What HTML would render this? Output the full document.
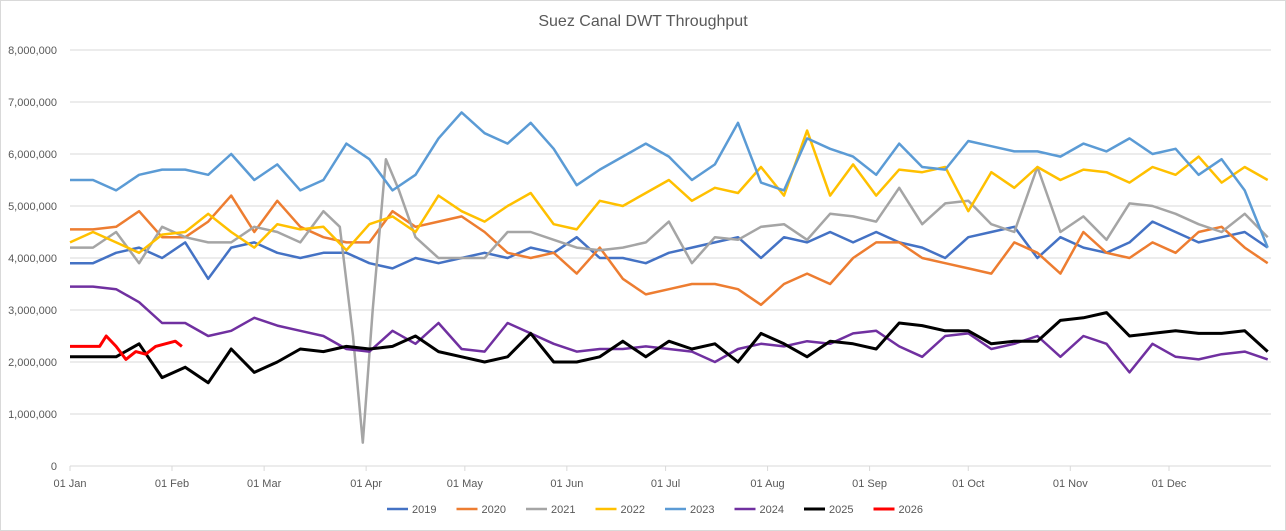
<!DOCTYPE html>
<html><head><meta charset="utf-8"><style>
body{margin:0;background:#fff;}
svg{display:block;font-family:"Liberation Sans",sans-serif;}
</style></head><body>
<svg id="chart" width="1286" height="531" viewBox="0 0 1286 531" xmlns="http://www.w3.org/2000/svg">
<rect x="0.5" y="0.5" width="1285" height="530" fill="#fff" stroke="#d9d9d9"/>
<text x="643" y="26" text-anchor="middle" font-size="16" fill="#595959">Suez Canal DWT Throughput</text>
<g id="grid"></g><g id="axes"></g><g id="series"></g><g id="legend"></g>
</svg>
<script>
const weekDays=[0,7,14,21,28,35,42,49,56,63,70,77,84,91,98,105,112,119,126,133,140,147,154,161,168,175,182,189,196,203,210,217,224,231,238,245,252,259,266,273,280,287,294,301,308,315,322,329,336,343,350,357,364];
const yTicks=[0,1000000,2000000,3000000,4000000,5000000,6000000,7000000,8000000];
const yTickLabels=["0","1,000,000","2,000,000","3,000,000","4,000,000","5,000,000","6,000,000","7,000,000","8,000,000"];
const xTickDays=[0,31,59,90,120,151,181,212,243,273,304,334];
const xTickLabels=["01 Jan","01 Feb","01 Mar","01 Apr","01 May","01 Jun","01 Jul","01 Aug","01 Sep","01 Oct","01 Nov","01 Dec"];
const s2019=[3.9,3.9,4.1,4.2,4.0,4.3,3.6,4.2,4.3,4.1,4.0,4.1,4.1,3.9,3.8,4.0,3.9,4.0,4.1,4.0,4.2,4.1,4.4,4.0,4.0,3.9,4.1,4.2,4.3,4.4,4.0,4.4,4.3,4.5,4.3,4.5,4.3,4.2,4.0,4.4,4.5,4.6,4.0,4.4,4.2,4.1,4.3,4.7,4.5,4.3,4.4,4.5,4.2];
const s2020=[4.55,4.55,4.6,4.9,4.4,4.4,4.7,5.2,4.5,5.1,4.6,4.4,4.3,4.3,4.9,4.6,4.7,4.8,4.5,4.1,4.0,4.1,3.7,4.2,3.6,3.3,3.4,3.5,3.5,3.4,3.1,3.5,3.7,3.5,4.0,4.3,4.3,4.0,3.9,3.8,3.7,4.3,4.1,3.7,4.5,4.1,4.0,4.3,4.1,4.5,4.6,4.2,3.9];
const days2021=[0,7,14,21,28,35,42,49,56,63,70,77,82,86,89,92,96,100,105,112,119,126,133,140,147,154,161,168,175,182,189,196,203,210,217,224,231,238,245,252,259,266,273,280,287,294,301,308,315,322,329,336,343,350,357,364];
const s2021=[4.2,4.2,4.5,3.9,4.6,4.4,4.3,4.3,4.6,4.5,4.3,4.9,4.6,2.5,0.45,3.0,5.9,5.3,4.4,4.0,4.0,4.0,4.5,4.5,4.35,4.2,4.15,4.2,4.3,4.7,3.9,4.4,4.35,4.6,4.65,4.35,4.85,4.8,4.7,5.35,4.65,5.05,5.1,4.65,4.5,5.75,4.5,4.8,4.35,5.05,5.0,4.85,4.65,4.5,4.85,4.4];
const s2022=[4.3,4.5,4.3,4.1,4.45,4.5,4.85,4.5,4.2,4.65,4.55,4.6,4.15,4.65,4.8,4.5,5.2,4.9,4.7,5.0,5.25,4.65,4.55,5.1,5.0,5.25,5.5,5.1,5.35,5.25,5.75,5.2,6.45,5.2,5.8,5.2,5.7,5.65,5.75,4.9,5.65,5.35,5.75,5.5,5.7,5.65,5.45,5.75,5.6,5.95,5.45,5.75,5.5];
const s2023=[5.5,5.5,5.3,5.6,5.7,5.7,5.6,6.0,5.5,5.8,5.3,5.5,6.2,5.9,5.3,5.6,6.3,6.8,6.4,6.2,6.6,6.1,5.4,5.7,5.95,6.2,5.95,5.5,5.8,6.6,5.45,5.3,6.3,6.1,5.95,5.6,6.2,5.75,5.7,6.25,6.15,6.05,6.05,5.95,6.2,6.05,6.3,6.0,6.1,5.6,5.9,5.3,4.2];
const s2024=[3.45,3.45,3.4,3.15,2.75,2.75,2.5,2.6,2.85,2.7,2.6,2.5,2.25,2.2,2.6,2.35,2.75,2.25,2.2,2.75,2.55,2.35,2.2,2.25,2.25,2.3,2.25,2.2,2.0,2.25,2.35,2.3,2.4,2.35,2.55,2.6,2.3,2.1,2.5,2.55,2.25,2.35,2.5,2.1,2.5,2.35,1.8,2.35,2.1,2.05,2.15,2.2,2.05];
const s2025=[2.1,2.1,2.1,2.35,1.7,1.9,1.6,2.25,1.8,2.0,2.25,2.2,2.3,2.25,2.3,2.5,2.2,2.1,2.0,2.1,2.55,2.0,2.0,2.1,2.4,2.1,2.4,2.25,2.35,2.0,2.55,2.35,2.1,2.4,2.35,2.25,2.75,2.7,2.6,2.6,2.35,2.4,2.4,2.8,2.85,2.95,2.5,2.55,2.6,2.55,2.55,2.6,2.2];
const days2026=[0,5,9,11,14,17,20,23,26,29,32,34];
const s2026=[2.3,2.3,2.3,2.5,2.3,2.05,2.2,2.15,2.3,2.35,2.4,2.3];
const seriesNames=["2019","2020","2021","2022","2023","2024","2025","2026"];

const NS="http://www.w3.org/2000/svg";
const X0=70,X1=1271,Y0=466,Y1=50;
const xScale=d=>X0+d*(X1-X0)/365;
const yScale=v=>Y0-v*(Y0-Y1)/8000000;
function mk(t,p,a){const e=document.createElementNS(NS,t);for(const k in a)e.setAttribute(k,a[k]);p.appendChild(e);return e;}
const grid=document.getElementById('grid'),axes=document.getElementById('axes'),ser=document.getElementById('series'),leg=document.getElementById('legend');
yTicks.forEach((v,i)=>{
  if(i>0){const g=mk('line',grid,{x1:X0,x2:X1,y1:yScale(v),y2:yScale(v),stroke:'#d9d9d9','stroke-width':1});
  
  }
  const t=mk('text',axes,{x:57,y:yScale(v)+4,'text-anchor':'end','font-size':11,fill:'#595959'});t.textContent=yTickLabels[i];
  
  
});
const ax=mk('line',axes,{x1:X0,x2:X1,y1:Y0,y2:Y0,stroke:'#d9d9d9','stroke-width':1});


xTickDays.forEach((d,i)=>{
  const tk=mk('line',axes,{x1:xScale(d),x2:xScale(d),y1:Y0,y2:Y0+5,stroke:'#d9d9d9'});
  
  
  const t=mk('text',axes,{x:xScale(d),y:487,'text-anchor':'middle','font-size':11,fill:'#595959'});t.textContent=xTickLabels[i];
  
  
});
const defs=[[weekDays,s2019,'#4472c4',2.5],[weekDays,s2020,'#ed7d31',2.5],[days2021,s2021,'#a5a5a5',2.5],[weekDays,s2022,'#ffc000',2.5],[weekDays,s2023,'#5b9bd5',2.5],[weekDays,s2024,'#7030a0',2.5],[weekDays,s2025,'#000000',3],[days2026,s2026,'#ff0000',3]];
defs.forEach((s,i)=>{
  const pts=s[0].map((d,j)=>xScale(d).toFixed(1)+','+yScale(s[1][j]*1e6).toFixed(1)).join(' ');
  const p=mk('polyline',ser,{points:pts,fill:'none',stroke:s[2],'stroke-width':s[3],'stroke-linejoin':'round'});
  
  
  const lx=387+i*69.5;
  const g=mk('g',leg,{});
  
  
  mk('line',g,{x1:lx,x2:lx+21,y1:509,y2:509,stroke:s[2],'stroke-width':s[3]});
  const t=mk('text',g,{x:lx+25,y:513,'font-size':11,fill:'#595959'});t.textContent=seriesNames[i];
});
</script>
</body></html>
